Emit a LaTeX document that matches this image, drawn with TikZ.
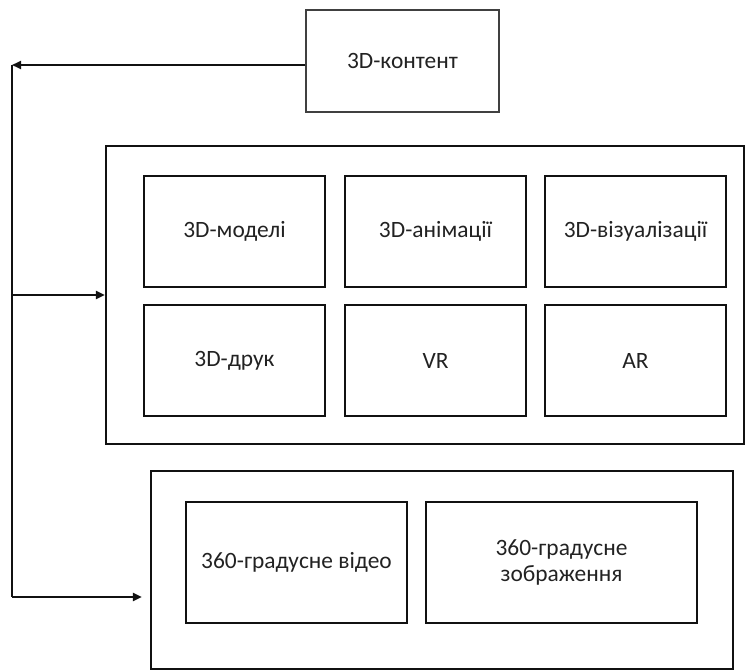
\documentclass[tikz,border=0pt]{standalone}
\usepackage{fontspec}
\setmainfont{Carlito}
\usetikzlibrary{arrows.meta,positioning}
\definecolor{ink}{HTML}{111111}
\definecolor{txt}{HTML}{222222}
\tikzset{blk/.style={draw=ink,line width=2.2bp,inner sep=0pt,align=center,
    text=txt,font=\fontsize{23.5}{27}\selectfont},
  grp/.style={draw=ink,line width=2.2bp,inner sep=0pt},
  head/.style={blk,draw=black!75,line width=1.4bp,minimum width=193bp,minimum height=102bp},
  cell/.style={blk,minimum width=181bp,minimum height=111bp},
  link/.style={ink,line width=2bp,-{Triangle[length=9bp,width=8bp]}},
  rail/.style={ink,line width=2.2bp}}

\begin{document}
\begin{tikzpicture}[x=1bp,y=-1bp]
\useasboundingbox (0,0) rectangle (754,671);
\node[head] (cont) at (402.5,61) {3D-контент};
% first group
\node[grp,minimum width=638bp,minimum height=298bp] (g1) at (425,295) {};
\foreach \i/\x/\y/\t in {1/234.5/231.5/3D-моделі,2/435.5/231.5/3D-анімації,
  3/635.5/231.5/3D-візуалізації,4/234.5/360.5/3D-друк,5/435.5/360.5/VR,6/635.5/360.5/AR}
  \node[cell] (m\i) at (\x,\y) {\t};
% second group
\node[grp,minimum width=582bp,minimum height=198bp] (g2) at (442,570) {};
\node[blk,minimum width=221bp,minimum height=121bp] (v1) at (296.5,562.5) {360-градусне відео};
\node[blk,minimum width=271bp,minimum height=121bp] (v2) at (561.5,562.5) {360-градусне\\зображення};
% connectors
\coordinate (c0) at (12,65);
\coordinate (c1) at (12,295);
\coordinate (c2) at (12,597);
\draw[link] (cont.west |- c0) -- (c0);
\draw[rail] (c0) -- (c2);
\draw[link] (c1) -- (g1.west);
\draw[link,shorten >=8bp] (c2) -- (c2 -| g2.west);
\end{tikzpicture}
\end{document}
